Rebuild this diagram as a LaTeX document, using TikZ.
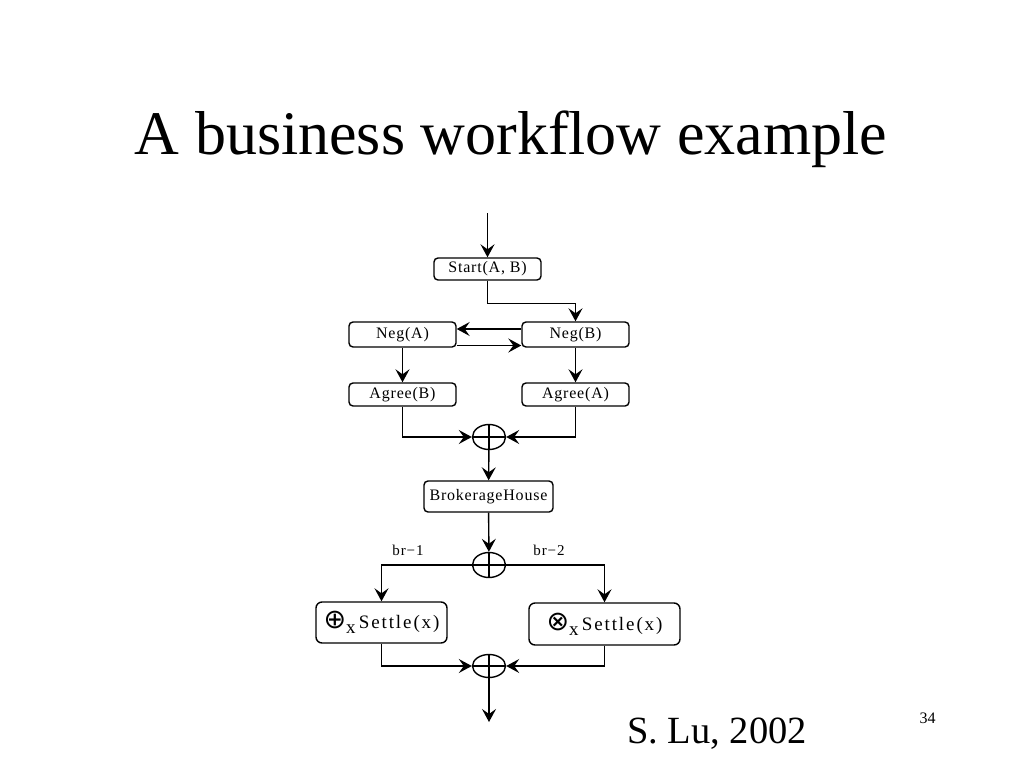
\documentclass[tikz,border=0pt]{standalone}
\usepackage{fontspec}
\setmainfont{Liberation Serif}
\newfontfamily\symfont{DejaVu Sans}
\usepackage{tikz}
\usetikzlibrary{shapes.geometric,arrows.meta}

\tikzset{
  box/.style={draw,rounded corners=4pt,line width=1.4pt,inner sep=0pt,
    font=\fontsize{16}{18}\selectfont\addfontfeature{LetterSpace=5}},
  bigbox/.style={box,rounded corners=6pt,
    font=\fontsize{19}{21}\selectfont\addfontfeature{LetterSpace=10}},
  joint/.style={draw,ellipse,line width=1.4pt,minimum width=33pt,minimum height=25pt,inner sep=0pt,
    path picture={\draw[line width=1.4pt] (path picture bounding box.north) -- (path picture bounding box.south)
      (path picture bounding box.west) -- (path picture bounding box.east);}},
  flow/.style={line width=1.4pt,-{Stealth[length=13pt,width=14pt,inset=5pt]}},
  brlabel/.style={font=\fontsize{15}{17}\selectfont\addfontfeature{LetterSpace=6}}
}

\begin{document}
\begin{tikzpicture}[x=1pt,y=-1pt]
\useasboundingbox (0,0) rectangle (1024,768) ;
\node[anchor=base,font=\fontsize{62}{70}\selectfont] (title) at (511,154) {A business workflow example} ;
\node[anchor=base,font=\fontsize{38.5}{44}\selectfont] (author) at (717,743) {S. Lu, 2002} ;
\node[anchor=base,font=\fontsize{16}{18}\selectfont] (page) at (927.5,723) {34} ;

\node[box,minimum width=107pt,minimum height=22pt] (start) at (487.5,269) {Start(A, B)} ;
\node[box,minimum width=107pt,minimum height=25pt] (negA) at (402.5,334.5) {Neg(A)} ;
\node[box,minimum width=107pt,minimum height=25pt] (negB) at (575.5,334.5) {Neg(B)} ;
\node[box,minimum width=107pt,minimum height=23pt] (agreeB) at (402.5,394.5) {Agree(B)} ;
\node[box,minimum width=107pt,minimum height=23pt] (agreeA) at (575.5,394.5) {Agree(A)} ;
\node[joint] (join1) at (489,437) {} ;
\node[box,minimum width=129pt,minimum height=31pt] (broker) at (488.5,496.5) {BrokerageHouse} ;
\node[joint] (split) at (489,565) {} ;
\node[bigbox,minimum width=131pt,minimum height=41pt] (settleL) at (381.5,622.5)
  {{\symfont\fontsize{27}{27}\selectfont ⊕}\raisebox{-5pt}{x}\,Settle(x)} ;
\node[bigbox,minimum width=151pt,minimum height=42pt] (settleR) at (604.5,624)
  {{\symfont\fontsize{27}{27}\selectfont ⊗}\raisebox{-5pt}{x}\,Settle(x)\hspace{14pt}} ;
\node[joint,minimum height=23pt] (join2) at (489,666) {} ;
\node[brlabel] (br1) at (408,550) {br−1} ;
\node[brlabel] (br2) at (549,550) {br−2} ;

\coordinate (in) at (487.5,213) ;
\coordinate (out) at (489,722) ;

\draw[flow] (in) -- (start) ;
\draw[flow] (start.south) -- ++(0,23) -| (negB.north) ;
\draw[flow] ([yshift=5.5pt]negB.west) -- ([yshift=5.5pt]negA.east) ;
\draw[flow] ([yshift=-11pt]negA.east) -- ([yshift=-11pt]negB.west) ;
\draw[flow] (negA) -- (agreeB) ;
\draw[flow] (negB) -- (agreeA) ;
\draw[flow] (agreeB) |- (join1) ;
\draw[flow] (agreeA) |- (join1) ;
\draw[flow] (join1) -- (broker) ;
\draw[flow] (broker) -- (split) ;
\draw[flow] (split) -| (settleL) ;
\draw[flow] (split) -| (settleR) ;
\draw[flow] (settleL) |- (join2) ;
\draw[flow] (settleR) |- (join2) ;
\draw[flow] (join2) -- (out) ;
\end{tikzpicture}
\end{document}
